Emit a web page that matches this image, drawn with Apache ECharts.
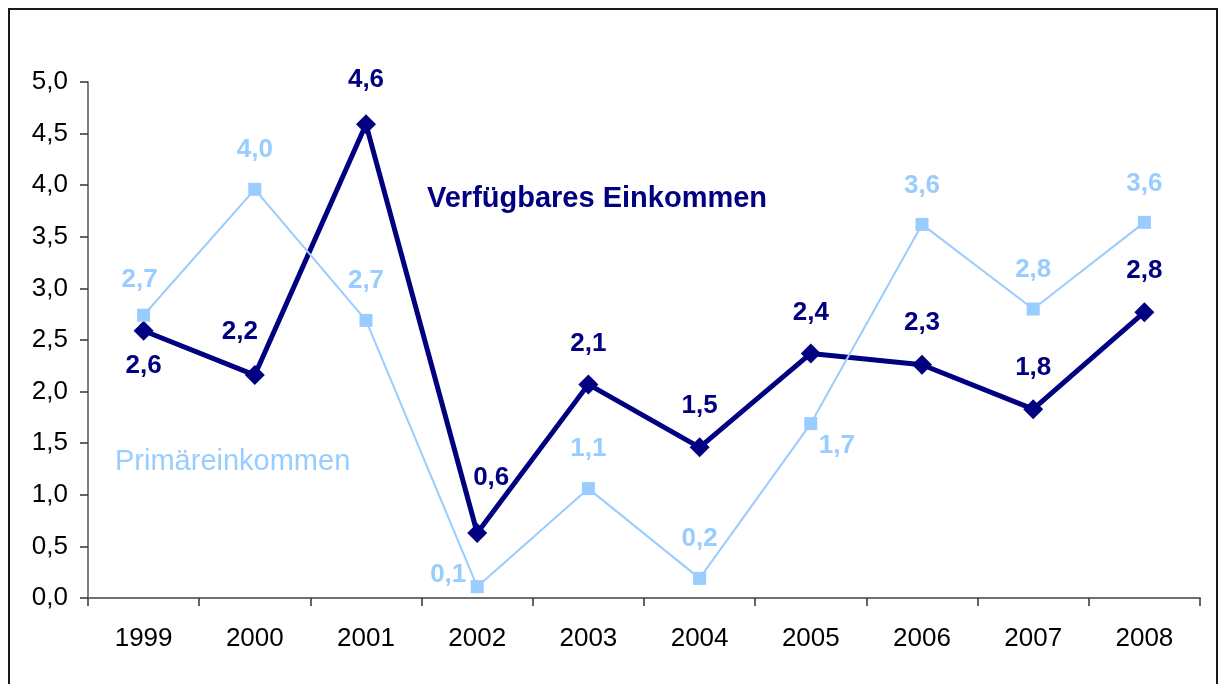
<!DOCTYPE html>
<html>
<head>
<meta charset="utf-8">
<script src="https://cdn.jsdelivr.net/npm/echarts@6/dist/echarts.min.js"></script>
<style>
  html, body { margin: 0; padding: 0; background: #fff; }
  #wrap { position: relative; width: 1219px; height: 684px; overflow: hidden; }
  #frame { position: absolute; left: 8px; top: 8px; width: 1210px; height: 720px; border: 2px solid #1a1a1a; box-sizing: border-box; pointer-events: none; }
  #chart { position: absolute; left: 0; top: 0; width: 1219px; height: 684px; }
</style>
</head>
<body>
<div id="wrap">
  <div id="frame"></div>
  <div id="chart"></div>
</div>
<script>
// ---- data ----
var years = ['1999', '2000', '2001', '2002', '2003', '2004', '2005', '2006', '2007', '2008'];
var verfuegbares = [2.59, 2.16, 4.59, 0.63, 2.07, 1.46, 2.37, 2.26, 1.83, 2.77];
var primaer = [2.74, 3.96, 2.69, 0.11, 1.06, 0.19, 1.69, 3.62, 2.80, 3.64];
var seriesNames = ['Verfügbares Einkommen', 'Primäreinkommen'];

// ---- label placement (style, not data) ----
var darkLabelOffsets = [[0, 35], [-15, -43], [0, -44], [14, -55], [0, -41], [0, -41], [0, -41], [0, -42], [0, -41], [0, -41]];
var lightLabelOffsets = [[-4, -35], [0, -39], [0, -40], [-29, -12], [0, -40], [0, -40], [26, 22], [0, -39], [0, -39], [0, -39]];

var FONT = '"Liberation Sans", Arial, sans-serif';
var NAVY = '#000080';
var LIGHT = '#99CCFF';

function fmt(v) { return v.toFixed(1).replace('.', ','); }

function build(values, offsets) {
  return values.map(function (v, i) {
    return { value: v, label: { offset: offsets[i] } };
  });
}

var chart = echarts.init(document.getElementById('chart'), null, { renderer: 'canvas' });
chart.setOption({
  animation: false,
  backgroundColor: 'transparent',
  grid: { left: 88, right: 19, top: 82, bottom: 86 },
  xAxis: {
    type: 'category',
    data: years,
    boundaryGap: true,
    axisLine: { lineStyle: { color: '#707070', width: 2 } },
    axisTick: { show: true, inside: false, length: 8, lineStyle: { color: '#333', width: 1.5 } },
    axisLabel: { color: '#000', fontFamily: FONT, fontSize: 26, margin: 28 },
    splitLine: { show: false }
  },
  yAxis: {
    type: 'value',
    min: 0, max: 5, interval: 0.5,
    axisLine: { show: true, lineStyle: { color: '#555', width: 1.5 } },
    axisTick: { show: true, inside: false, length: 8, lineStyle: { color: '#333', width: 1.5 } },
    axisLabel: { color: '#000', fontFamily: FONT, fontSize: 26, margin: 20, formatter: fmt },
    splitLine: { show: false }
  },
  series: [
    {
      name: seriesNames[0],
      type: 'line',
      data: build(verfuegbares, darkLabelOffsets),
      symbol: 'diamond',
      symbolSize: 20,
      lineStyle: { color: NAVY, width: 5 },
      itemStyle: { color: NAVY },
      label: {
        show: true, position: 'inside', color: NAVY, fontFamily: FONT,
        fontSize: 26, fontWeight: 'bold',
        formatter: function (p) { return fmt(p.value); }
      },
      z: 2
    },
    {
      name: seriesNames[1],
      type: 'line',
      data: build(primaer, lightLabelOffsets),
      symbol: 'rect',
      symbolSize: 13,
      lineStyle: { color: LIGHT, width: 2 },
      itemStyle: { color: LIGHT },
      label: {
        show: true, position: 'inside', color: LIGHT, fontFamily: FONT,
        fontSize: 26, fontWeight: 'bold',
        formatter: function (p) { return fmt(p.value); }
      },
      z: 3
    }
  ],
  graphic: [
    {
      type: 'text', left: 427, top: 184,
      style: { text: seriesNames[0], fill: NAVY, font: 'bold 29px ' + FONT }
    },
    {
      type: 'text', left: 115, top: 447,
      style: { text: seriesNames[1], fill: LIGHT, font: '29px ' + FONT }
    }
  ]
});
</script>
</body>
</html>
